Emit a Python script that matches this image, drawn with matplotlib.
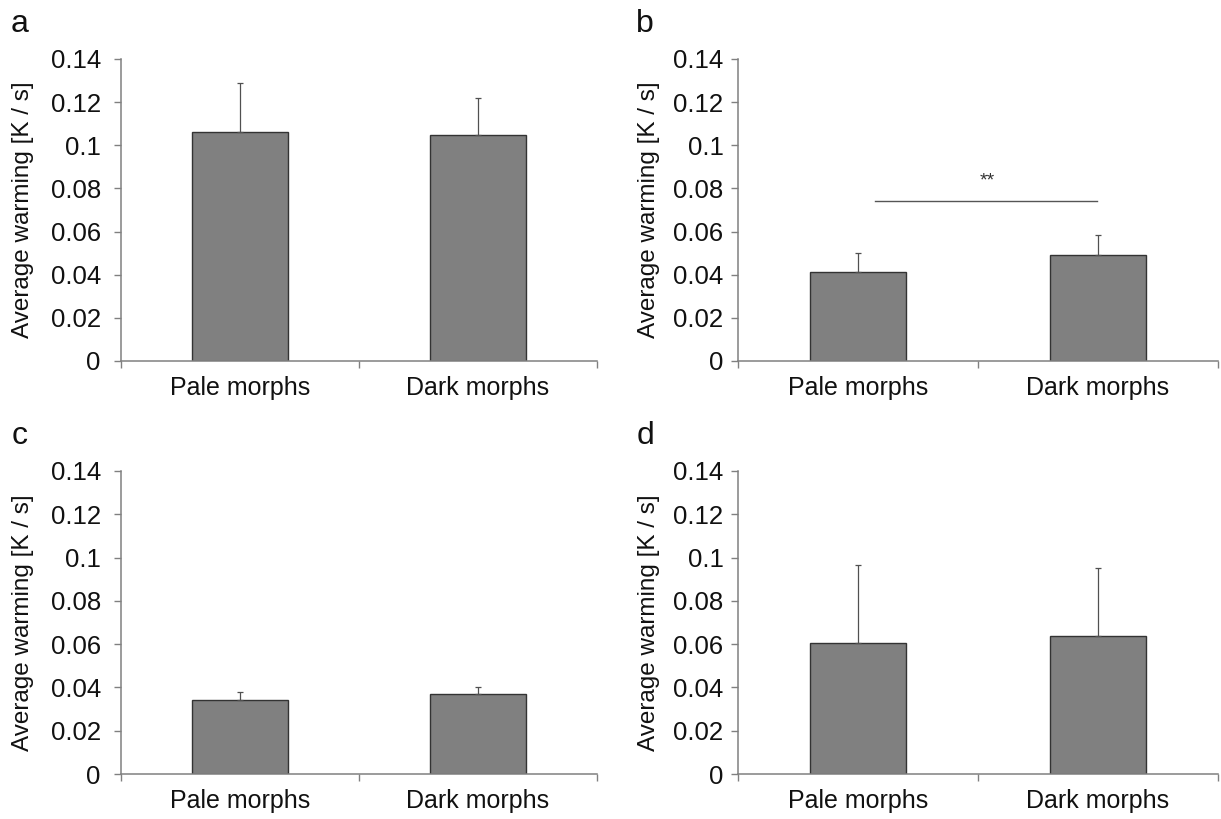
import matplotlib.pyplot as plt
import numpy as np

plt.rcParams['font.family'] = ['Liberation Sans', 'DejaVu Sans']

categories = ["Pale morphs", "Dark morphs"]
panels = ["a", "b", "c", "d"]
means = {
    "a": [0.1063, 0.1049],
    "b": [0.0412, 0.0492],
    "c": [0.0342, 0.0368],
    "d": [0.0605, 0.0637],
}
err_top = {
    "a": [0.1290, 0.1217],
    "b": [0.0501, 0.0584],
    "c": [0.0380, 0.0402],
    "d": [0.0965, 0.0954],
}
# significance bar in panel b
sig_x = [0.07, 0.995]
sig_y = 0.0741
sig_label = "**"
sig_label_y = 0.0833

W, H = 1221, 819
fig = plt.figure(figsize=(W / 100, H / 100), dpi=100)

# axes boxes in pixels: left, right, top(0.14), bottom(0)
boxes = {
    "a": (121, 597, 59, 361),
    "b": (738, 1218, 59, 361),
    "c": (121, 597, 471, 774),
    "d": (738, 1218, 471, 774),
}
ypad = {"a": 9.5, "b": 5.5, "c": 9.5, "d": 5.5}
# right edge (text bottom) of the rotated y label, in pixels
ylab_x = {"a": 34, "b": 660, "c": 34, "d": 660}
letter_x = {"a": 20, "b": 645, "c": 20, "d": 645}
letter_y = {"a": 24, "b": 24, "c": 436, "d": 436}

grey = '#808080'
x = np.arange(len(categories))

for p in panels:
    l, r, t, b = boxes[p]
    ax = fig.add_axes([l / W, 1 - b / H, (r - l) / W, (b - t) / H])
    m = np.array(means[p])
    e = np.array(err_top[p]) - m
    ax.bar(x, m, width=0.4, color='#808080', edgecolor='#333333', linewidth=1.0, zorder=2)
    ax.errorbar(x, m, yerr=[np.zeros_like(e), e], fmt='none', ecolor='#505050',
                elinewidth=0.9, capsize=2.5, capthick=0.9, zorder=3)

    ax.set_xlim(-0.5, 1.5)
    ax.set_ylim(0, 0.14)
    ax.set_yticks(np.arange(0, 0.141, 0.02))
    ax.set_yticklabels(["0", "0.02", "0.04", "0.06", "0.08", "0.1", "0.12", "0.14"])
    ax.set_xticks(x)
    ax.set_xticklabels(categories)
    ax.set_xticks([-0.5, 0.5, 1.5], minor=True)
    ax.tick_params(axis='x', which='major', length=0, pad=11, labelsize=18, labelcolor='#111111')
    ax.tick_params(axis='x', which='minor', length=5, width=1, color=grey, direction='out')
    ax.tick_params(axis='y', length=5, width=1, color=grey, direction='out',
                   pad=ypad[p], labelsize=18.5, labelcolor='#111111')

    for s in ['top', 'right']:
        ax.spines[s].set_visible(False)
    for s in ['left', 'bottom']:
        ax.spines[s].set_color(grey)
        ax.spines[s].set_linewidth(1.1)

    ax.set_ylabel("Average warming [K / s]", fontsize=17.5, color='#111111')
    ax.yaxis.set_label_coords((ylab_x[p] - l) / (r - l), 0.5)

    fig.text(letter_x[p] / W, 1 - letter_y[p] / H, p, fontsize=23,
             ha='center', va='center', color='#111111')

    if p == "b":
        ax.plot(sig_x, [sig_y, sig_y], color='#555555', linewidth=1.0, zorder=3)
        ax.text(0.54, sig_label_y, sig_label, ha='center', va='center',
                fontsize=14, color='#333333')

fig.savefig("out.png", dpi=100)
